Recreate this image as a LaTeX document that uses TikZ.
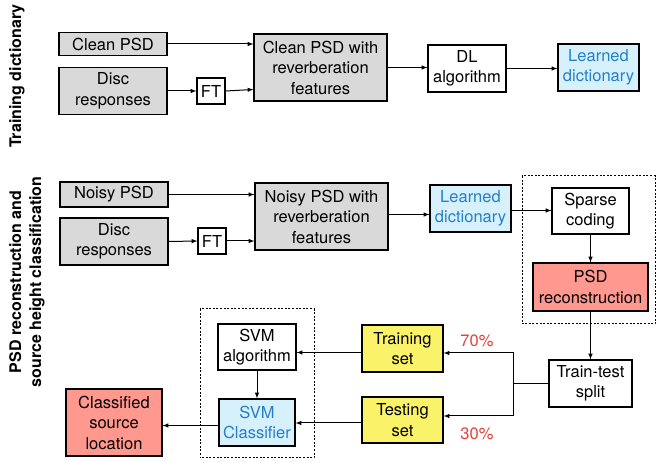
\documentclass[tikz,border=0pt]{standalone}
\usepackage{fontspec}
\setmainfont{TeX Gyre Heros}
\usepackage{tikz}
\usetikzlibrary{arrows}

\definecolor{boxgray}{RGB}{217,217,217}
\definecolor{dictblue}{RGB}{214,240,252}
\definecolor{dicttext}{RGB}{38,128,200}
\definecolor{recred}{RGB}{255,153,143}
\definecolor{setyellow}{RGB}{250,242,105}
\definecolor{pcred}{RGB}{232,62,58}

\begin{document}
\begin{tikzpicture}[x=1pt, y=-1pt, >=latex, font=\fontsize{16.5}{20.5}\selectfont,
  blk/.style={draw, line width=1.1pt, inner sep=0pt, align=center, minimum width=#1},
  grayblk/.style={blk=#1, fill=boxgray},
  dictblk/.style={blk=#1, fill=dictblue, text=dicttext},
  redblk/.style={blk=#1, fill=recred},
  yelblk/.style={blk=#1, fill=setyellow},
  arr/.style={->, line width=1pt},
  pc/.style={text=pcred},
  group/.style={draw, dash pattern=on 2pt off 1.6pt, line width=1pt}]
\useasboundingbox (0,0) rectangle (657,462);
%\draw[help lines] (0,0) grid[step=50] (657,462);

% training dictionary
\node [rotate=90, font=\fontsize{16}{20}\selectfont\bfseries] (ttl1) at (17,76) {Training dictionary};
\node [grayblk=108, minimum height=23] (cleanpsd) at (113,44) {Clean PSD};
\node [grayblk=108, minimum height=47] (disc1) at (113,91) {Disc\\responses};
\node [blk=28, minimum height=26] (ft1) at (211,91) {FT};
\node [grayblk=133, minimum height=67] (cleanfeat) at (320.5,67.5) {Clean PSD with\\reverberation\\features};
\node [blk=78, minimum height=47] (dl) at (467,68.5) {DL\\algorithm};
\node [dictblk=81, minimum height=47] (learned1) at (598.5,67.5) {Learned\\dictionary};

\draw [arr] (cleanpsd.east) -- (cleanpsd.east -| cleanfeat.west);
\draw [arr] (disc1.east) -- (ft1.west);
\draw [arr] (ft1.east) -- ([yshift=1.5pt]ft1.east -| cleanfeat.west);
\draw [arr] (cleanfeat.east) -- (cleanfeat.east -| dl.west);
\draw [arr] (dl.east) -- (dl.east -| learned1.west);

% reconstruction and classification
\node [rotate=90, align=center, font=\fontsize{16}{20}\selectfont\bfseries] (ttl2) at (27,282) {PSD reconstruction and\\source height classification};
\node [grayblk=108, minimum height=25] (noisypsd) at (114,194.5) {Noisy PSD};
\node [grayblk=108, minimum height=47] (disc2) at (114,241.5) {Disc\\responses};
\node [blk=28, minimum height=26] (ft2) at (212,241) {FT};
\node [grayblk=133, minimum height=67] (noisyfeat) at (321.5,216.5) {Noisy PSD with\\reverberation\\features};
\node [dictblk=81, minimum height=47] (learned2) at (470.5,208.5) {Learned\\dictionary};
\node [blk=77, minimum height=46] (sparse) at (590.5,211) {Sparse\\coding};
\node [redblk=115, minimum height=48] (psdrec) at (590.5,287) {PSD\\reconstruction};
\node [blk=83, minimum height=47] (split) at (590.5,383.5) {Train-test\\split};
\node [yelblk=81, minimum height=47] (trainset) at (402.5,348.5) {Training\\set};
\node [yelblk=81, minimum height=46] (testset) at (402.5,420) {Testing\\set};
\node [blk=78, minimum height=46] (svmalg) at (257,347) {SVM\\algorithm};
\node [dictblk=76, minimum height=47] (svmcls) at (257,422.5) {SVM\\Classifier};
\node [redblk=96, minimum height=67] (classified) at (114,422.5) {Classified\\source\\location};
\node [pc] (p70) at (477,341) {70\%};
\node [pc] (p30) at (477,434) {30\%};

\draw [group] (522,176) rectangle (655,324);
\draw [group] (200,309) rectangle (314,458);

\draw [arr] (noisypsd.east) -- (noisypsd.east -| noisyfeat.west);
\draw [arr] (disc2.east) -- (ft2.west);
\draw [arr] (ft2.east) -- (ft2.east -| noisyfeat.west);
\draw [arr] ([yshift=2pt]noisyfeat.east) -- ([yshift=2pt]noisyfeat.east -| learned2.west);
\draw [arr] ([yshift=-2pt]learned2.east) -- ([yshift=-2pt]learned2.east -| sparse.west);
\draw [arr] (sparse) -- (psdrec);
\draw [arr] (psdrec) -- (split);
\coordinate (fork) at (513,383.5);
\draw [arr] (split.west) -- (fork) |- ([yshift=-4.5pt]trainset.east);
\draw [arr] (fork) |- ([yshift=4pt]testset.east);
\draw [arr] ([yshift=-4pt]trainset.west) -- ([yshift=-4pt]trainset.west -| svmalg.east);
\draw [arr] (svmalg) -- (svmcls);
\draw [arr] ([yshift=-3pt]testset.west) -- ([yshift=-3pt]testset.west -| svmcls.east);
\draw [arr] ([yshift=-3pt]svmcls.west) -- ([yshift=-3pt]svmcls.west -| classified.east);

\end{tikzpicture}
\end{document}
